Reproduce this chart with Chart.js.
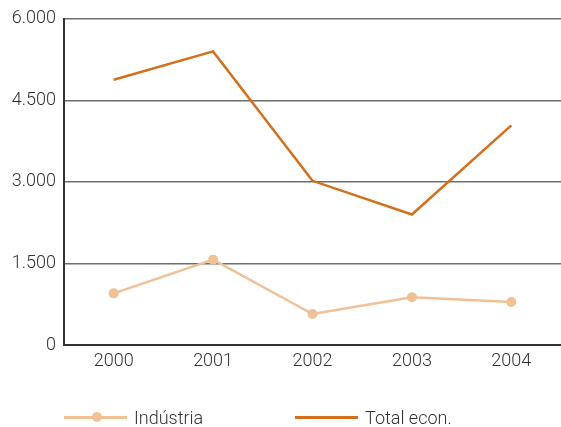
<!DOCTYPE html>
<html>
<head>
<meta charset="utf-8">
<script src="https://cdn.jsdelivr.net/npm/chart.js@4"></script>
<style>
  html, body { margin: 0; padding: 0; background: #fff; overflow: hidden; }
  #wrap { position: relative; width: 561px; height: 427px; overflow: hidden; }
  .leg { position: absolute; top: 406px; font: 300 18px Roboto, sans-serif; color: #333; display: flex; align-items: center; height: 22px; }
  .leg .ln { height: 3px; margin-right: 7px; position: relative; }
  .leg .dot { position: absolute; width: 10px; height: 10px; border-radius: 50%; top: -3.5px; }
</style>
</head>
<body>
<div id="wrap">
  <canvas id="grafica" width="566" height="427"></canvas>
  <div class="leg" style="left:64px"><span class="ln" style="width:63px;background:#efc195"><span class="dot" style="left:28px;background:#efc195"></span></span>Indústria</div>
  <div class="leg" style="left:295px"><span class="ln" style="width:63px;background:#d46f1c"></span>Total econ.</div>
</div>
<script>
const anos = ['2000', '2001', '2002', '2003', '2004'];
const industria = [950, 1570, 570, 880, 790];
const total_econ = [4880, 5400, 3020, 2400, 4040];
const ticks_y = [0, 1500, 3000, 4500, 6000];

const fuente = { family: 'Roboto, sans-serif', size: 18, weight: 300 };

const ctx = document.getElementById('grafica').getContext('2d');
new Chart(ctx, {
    type: 'line',
    data: {
        labels: anos,
        datasets: [{
            label: 'Indústria',
            data: industria,
            borderColor: '#efc195',
            backgroundColor: '#efc195',
            borderWidth: 2.5,
            pointRadius: 5,
            pointBorderWidth: 0,
            tension: 0
        }, {
            label: 'Total econ.',
            data: total_econ,
            borderColor: '#d46f1c',
            backgroundColor: '#d46f1c',
            borderWidth: 2.5,
            pointRadius: 0,
            tension: 0
        }]
    },
    options: {
        responsive: false,
        animation: false,
        layout: { padding: { top: 17, right: 0, left: 0, bottom: 0 } },
        plugins: {
            legend: { display: false },
            tooltip: { enabled: false }
        },
        scales: {
            x: {
                offset: true,
                grid: { display: false, drawTicks: false },
                border: { display: true, color: '#333', width: 2 },
                ticks: { color: '#333', font: fuente, padding: 6 },
                afterFit: function (scale) {
                    scale.height = 82;
                    scale.paddingLeft = 0;
                    scale.paddingRight = 0;
                }
            },
            y: {
                min: 0,
                max: 6000,
                afterBuildTicks: function (scale) {
                    scale.ticks = ticks_y.map(v => ({ value: v }));
                },
                grid: { color: '#6e6e6e', lineWidth: 1.5, drawTicks: false },
                border: { display: true, color: '#333', width: 2 },
                ticks: {
                    color: '#333',
                    font: fuente,
                    padding: 8,
                    callback: v => v.toString().replace(/\B(?=(\d{3})+(?!\d))/g, '.')
                },
                afterFit: function (scale) { scale.width = 64; }
            }
        }
    }
});
</script>
</body>
</html>
